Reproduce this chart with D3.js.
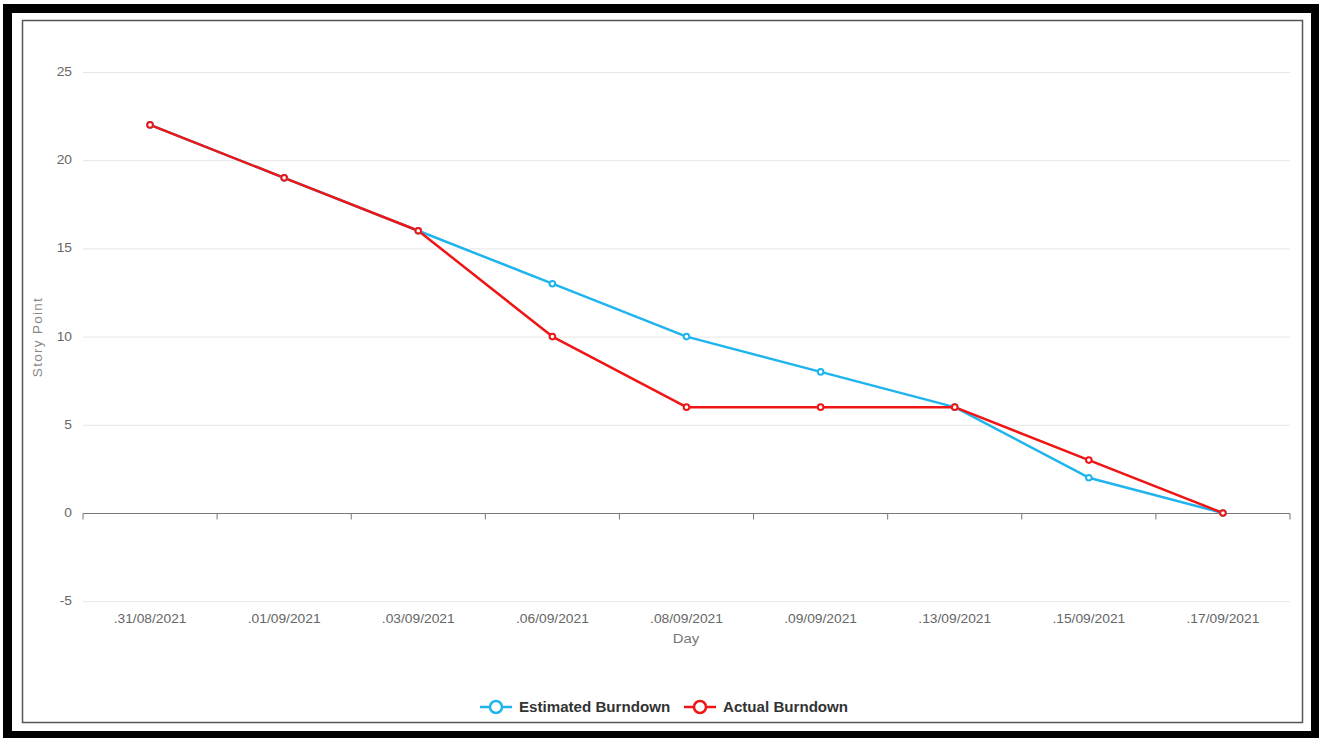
<!DOCTYPE html>
<html><head><meta charset="utf-8">
<script src="https://cdn.jsdelivr.net/npm/d3@7"></script>
<style>body{margin:0;background:#fff}svg{display:block;font-family:"Liberation Sans",Arial,sans-serif}</style>
</head><body>
<svg id="c" width="1319" height="738"></svg>
<script>
const categories = [".31/08/2021",".01/09/2021",".03/09/2021",".06/09/2021",".08/09/2021",".09/09/2021",".13/09/2021",".15/09/2021",".17/09/2021"];
const estimated = [22,19,16,13,10,8,6,2,0];
const actual = [22,19,16,10,6,6,6,3,0];
const yTicks = [-5,0,5,10,15,20,25];
const seriesNames = ["Estimated Burndown","Actual Burndown"];
const colors = ["#1fb4ee","#f01515"];

const svg = d3.select("#c");
const sx = 1.15;
// frames
svg.append("rect").attr("x",7.5).attr("y",8.5).attr("width",1308).attr("height",727).attr("fill","none").attr("stroke","#000").attr("stroke-width",9);
svg.append("rect").attr("x",22.5).attr("y",20.5).attr("width",1280).attr("height",702).attr("fill","#fff").attr("stroke","#555").attr("stroke-width",1.5);

const x = d3.scaleBand().domain(categories).range([83,1290]);
const y = d3.scaleLinear().domain([-5,25]).range([601.2,72]);

// grid
svg.append("g").selectAll("line").data(yTicks.filter(d=>d!==0)).join("line")
  .attr("x1",83).attr("x2",1290).attr("y1",d=>y(d)+0.5).attr("y2",d=>y(d)+0.5)
  .attr("stroke","#e6e6e6").attr("stroke-width",1);

// y labels
svg.append("g").selectAll("text").data(yTicks).join("text")
  .attr("transform",d=>`translate(72,${y(d)+4}) scale(${sx},1)`).attr("text-anchor","end")
  .attr("font-size",12).attr("fill","#666").text(d=>d);

// x axis
const xa = svg.append("g").attr("transform",`translate(0,${y(0)+0.5})`)
  .call(d3.axisBottom(x).tickSize(0).tickFormat(""));
xa.select(".domain").attr("stroke","#777").attr("stroke-width",1.2).attr("d","M83,0H1290");
const bounds = categories.map(c=>x(c)).concat([x.range()[1]]);
xa.selectAll(".bt").data(bounds).join("line").attr("class","bt")
  .attr("x1",d=>d).attr("x2",d=>d).attr("y1",0).attr("y2",6).attr("stroke","#777");

svg.append("g").selectAll("text").data(categories).join("text")
  .attr("transform",d=>`translate(${x(d)+x.bandwidth()/2},623) scale(${sx},1)`).attr("text-anchor","middle")
  .attr("font-size",12).attr("fill","#666").text(d=>d);

svg.append("text").attr("transform",`translate(686,643) scale(${sx},1)`).attr("text-anchor","middle")
  .attr("font-size",13).attr("fill","#777").text("Day");
svg.append("text").attr("transform","translate(42,337) rotate(-90)").attr("text-anchor","middle")
  .attr("font-size",13.5).attr("letter-spacing",1.3).attr("fill","#888").text("Story Point");

const line = d3.line().x((d,i)=>x(categories[i])+x.bandwidth()/2).y(d=>y(d));
[estimated, actual].forEach((s,k)=>{
  svg.append("path").datum(s).attr("d",line).attr("fill","none").attr("stroke",colors[k]).attr("stroke-width",2.5).attr("stroke-linejoin","round");
});
[estimated, actual].forEach((s,k)=>{
  svg.append("g").selectAll("circle").data(s).join("circle")
    .attr("cx",(d,i)=>x(categories[i])+x.bandwidth()/2).attr("cy",d=>y(d)).attr("r",2.8)
    .attr("fill","#fff").attr("stroke",colors[k]).attr("stroke-width",2);
});

// legend
const lx = [480,684];
seriesNames.forEach((n,k)=>{
  const g = svg.append("g").attr("transform",`translate(${lx[k]},707)`);
  g.append("line").attr("x1",0).attr("x2",32).attr("stroke",colors[k]).attr("stroke-width",2.5);
  g.append("circle").attr("cx",16).attr("r",6).attr("fill","#fff").attr("stroke",colors[k]).attr("stroke-width",2.5);
  g.append("text").attr("transform",`translate(39,5) scale(1.08,1)`).attr("font-size",14).attr("font-weight","bold").attr("fill","#333").text(n);
});
</script>
</body></html>
